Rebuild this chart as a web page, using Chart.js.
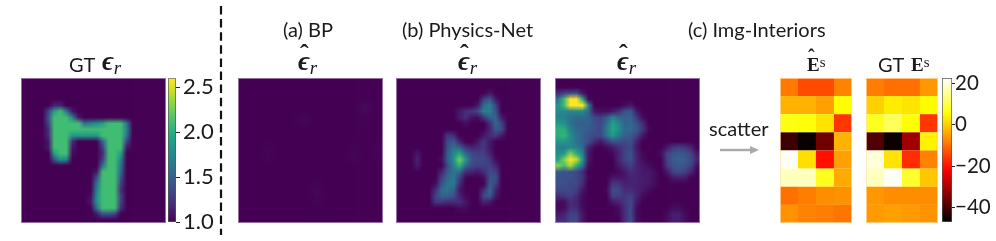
<!DOCTYPE html>
<html>
<head>
<meta charset="utf-8">
<script src="https://cdn.jsdelivr.net/npm/chart.js@4/dist/chart.umd.min.js"></script>
<style>
html,body{margin:0;padding:0;background:#fff;}
#page{position:relative;width:996px;height:241px;overflow:hidden;font-family:Lato,sans-serif;color:#1a1a1a;filter:blur(.3px);}
#page canvas{position:absolute;}
.t{position:absolute;white-space:nowrap;font-size:20px;line-height:24px;}
.m{font-family:"Liberation Serif",serif;}
.m b{font-size:27px;font-style:italic;}
.m i{font-size:19px;position:relative;top:4px;}
.m u{text-decoration:none;position:absolute;font-weight:bold;font-size:26px;}
.m sup{font-size:15px;position:relative;top:-4px;vertical-align:baseline;}
.edge{position:absolute;box-sizing:border-box;border:1px solid rgba(205,185,215,.6);}
.edge2{position:absolute;box-sizing:border-box;border:1px solid rgba(255,225,180,.7);}
</style>
</head>
<body>
<div id="page">
  <canvas id="gt" width="145" height="145" style="left:21px;top:78px;width:145px;height:145px"></canvas>
  <canvas id="bp" width="145" height="145" style="left:237.5px;top:78px;width:145px;height:145px"></canvas>
  <canvas id="phys" width="145" height="145" style="left:396px;top:78px;width:145px;height:145px"></canvas>
  <canvas id="img" width="145" height="145" style="left:555px;top:78px;width:145px;height:145px"></canvas>
  <canvas id="eHat" width="72" height="145" style="left:780px;top:78px"></canvas>
  <canvas id="eGt" width="72" height="145" style="left:866px;top:78px"></canvas>
  <canvas id="cbar1" width="52" height="179" style="left:168px;top:62px"></canvas>
  <canvas id="cbar2" width="54" height="179" style="left:942px;top:62px"></canvas>
  <div class="edge" style="left:21px;top:78px;width:145px;height:145px"></div>
  <div class="edge" style="left:237.5px;top:78px;width:145px;height:145px"></div>
  <div class="edge" style="left:396px;top:78px;width:145px;height:145px"></div>
  <div class="edge" style="left:555px;top:78px;width:145px;height:145px"></div>
  <div class="edge2" style="left:780px;top:78px;width:72px;height:145px"></div>
  <div class="edge2" style="left:866px;top:78px;width:72px;height:145px"></div>

  <div class="t" style="left:283px;top:17px">(a) BP</div>
  <div class="t" style="left:402px;top:17px">(b) Physics-Net</div>
  <div class="t" style="left:688px;top:17px">(c) Img-Interiors</div>
  <div class="t" style="left:69px;top:52px">GT</div>
  <div class="t m" style="left:102px;top:49px"><b>ϵ</b><i>r</i></div>
  <div class="t m" style="left:298px;top:49px"><u style="left:2px;top:-7px">ˆ</u><b>ϵ</b><i>r</i></div>
  <div class="t m" style="left:458px;top:49px"><u style="left:2px;top:-7px">ˆ</u><b>ϵ</b><i>r</i></div>
  <div class="t m" style="left:617px;top:49px"><u style="left:2px;top:-7px">ˆ</u><b>ϵ</b><i>r</i></div>
  <div class="t m" style="left:807px;top:52px"><u style="left:1px;top:-7px;font-size:20px">ˆ</u><span style="font-weight:bold;font-size:19px">E</span><sup>s</sup></div>
  <div class="t" style="left:878px;top:52px">GT</div>
  <div class="t m" style="left:911px;top:52px"><span style="font-weight:bold;font-size:19px">E</span><sup>s</sup></div>
  <div class="t" style="left:709px;top:116px">scatter</div>

  <svg width="996" height="241" style="position:absolute;left:0;top:0">
    <line x1="221" y1="6" x2="221" y2="235" stroke="#111" stroke-width="2.2" stroke-dasharray="8.5 4.6"/>
    <line x1="720" y1="150" x2="752" y2="150" stroke="#a9a9a9" stroke-width="2.4"/>
    <polygon points="750,146 759,150 750,154" fill="#a9a9a9"/>
  </svg>
</div>
<script>
// values, rows top to bottom
var gtMap = [
[1,1,1,1,1,1,1,1,1,1,1,1,1,1,1,1,1,1,1,1,1,1,1,1],
[1,1,1,1,1,1,1,1,1,1,1,1,1,1,1,1,1,1,1,1,1,1,1,1],
[1,1,1,1,1,1,1,1,1,1,1,1,1,1,1,1,1,1,1,1,1,1,1,1],
[1,1,1,1,1,1,1,1,1,1,1,1,1,1,1,1,1,1,1,1,1,1,1,1],
[1,1,1,1,1,1.15,1.15,1,1,1,1,1,1,1,1,1,1,1,1,1,1,1,1,1],
[1,1,1,1,1.3,1.9,2.1,1.6,1.1,1,1,1,1,1,1,1,1,1,1,1,1,1,1,1],
[1,1,1,1,1.4,2.1,2.1,2.1,1.7,1.1,1,1,1,1,1,1,1,1,1,1,1,1,1,1],
[1,1,1,1,1.3,2.1,2.1,2.1,2.1,2.1,1.6,1.7,1.8,1.9,2.1,2.1,2.1,1.6,1,1,1,1,1,1],
[1,1,1,1,1.2,2.1,2.1,2.1,2.1,2.1,2.1,2.1,2.1,2.1,2.1,2.1,2.1,1.7,1,1,1,1,1,1],
[1,1,1,1,1.2,2.1,2.1,2.1,1.85,1.85,1.85,1.85,1.85,2.1,2.1,2.1,2.1,1.6,1,1,1,1,1,1],
[1,1,1,1,1.1,2.1,2.1,2.1,1.2,1,1,1,1,1.5,2.1,2.1,2.1,1.3,1,1,1,1,1,1],
[1,1,1,1,1.1,2.1,2.1,2.1,1.1,1,1,1,1,1.3,2.1,2.1,2.1,1.1,1,1,1,1,1,1],
[1,1,1,1,1,1.9,2.1,2.1,1.05,1,1,1,1,1.2,2.1,2.1,1.9,1,1,1,1,1,1,1],
[1,1,1,1,1,1.4,1.8,1.7,1,1,1,1,1,1.3,2.1,2.1,1.7,1,1,1,1,1,1,1],
[1,1,1,1,1,1,1,1,1,1,1,1,1,1.6,2.1,2.1,1.6,1,1,1,1,1,1,1],
[1,1,1,1,1,1,1,1,1,1,1,1,1.1,2.1,2.1,2.1,1.5,1,1,1,1,1,1,1],
[1,1,1,1,1,1,1,1,1,1,1,1,1.4,2.1,2.1,2.1,1.4,1,1,1,1,1,1,1],
[1,1,1,1,1,1,1,1,1,1,1,1,1.6,2.1,2.1,2.1,1.3,1,1,1,1,1,1,1],
[1,1,1,1,1,1,1,1,1,1,1,1,1.7,2.1,2.1,2.1,1.2,1,1,1,1,1,1,1],
[1,1,1,1,1,1,1,1,1,1,1,1.05,1.8,2.1,2.1,2.1,1.3,1,1,1,1,1,1,1],
[1,1,1,1,1,1,1,1,1,1,1,1.1,1.8,2.1,2.1,2.1,1.3,1,1,1,1,1,1,1],
[1,1,1,1,1,1,1,1,1,1,1,1,1.6,2.1,2.1,2.1,1.2,1,1,1,1,1,1,1],
[1,1,1,1,1,1,1,1,1,1,1,1,1.1,1.4,1.4,1.3,1,1,1,1,1,1,1,1],
[1,1,1,1,1,1,1,1,1,1,1,1,1,1,1,1,1,1,1,1,1,1,1,1]
];
var bpMap = [
[1,1,1,1,1,1,1,1,1,1,1,1],
[1,1,1,1,1,1,1,1,1,1,1,1],
[1,1,1,1,1,1,1,1,1,1,1.03,1],
[1,1,1,1,1,1.025,1,1,1,1,1.01,1],
[1,1,1,1,1,1,1,1,1,1,1,1],
[1,1,1.01,1,1,1,1,1,1,1.01,1,1.01],
[1,1,1.02,1,1,1,1,1,1,1.02,1,1.01],
[1,1,1,1,1,1,1,1,1,1,1,1],
[1,1,1,1,1,1,1.01,1,1,1,1,1],
[1,1,1,1,1,1,1.03,1,1,1,1,1],
[1,1,1,1,1,1,1.01,1,1,1,1,1],
[1,1,1,1,1,1,1,1,1,1,1,1]
];
var physMap = [
[1,1,1,1,1,1,1,1,1,1,1,1,1,1,1,1,1,1,1,1,1,1,1,1],
[1,1,1,1,1,1,1,1,1,1,1,1,1,1,1,1,1,1,1,1,1,1,1,1],
[1,1,1,1,1,1,1,1,1,1,1,1,1,1,1,1.1,1,1,1,1,1,1,1,1],
[1,1,1,1,1,1,1,1,1,1,1,1,1,1,1.3,1.45,1.1,1,1,1,1,1,1,1],
[1,1,1,1,1,1,1,1,1,1,1,1,1,1.1,1.55,1.7,1.3,1,1,1,1,1,1,1],
[1,1,1,1,1,1,1,1,1,1,1.1,1.2,1.25,1.35,1.7,1.7,1.4,1,1,1,1,1,1,1],
[1,1,1,1,1,1,1,1,1,1,1.12,1.2,1.08,1.05,1.25,1.5,1.5,1.1,1,1,1,1,1,1],
[1,1,1,1,1,1,1,1,1,1,1,1.05,1,1,1,1.2,1.55,1.3,1,1,1,1,1,1],
[1,1,1,1,1,1,1,1,1,1,1,1,1,1,1,1.15,1.45,1.35,1,1,1,1,1,1],
[1,1,1,1,1,1,1,1,1.25,1.2,1,1,1,1,1.1,1.2,1.25,1.1,1,1,1,1,1,1],
[1,1,1,1,1,1,1,1,1.35,1.45,1.15,1,1,1.1,1.25,1.1,1,1,1,1,1,1,1,1],
[1,1,1,1,1,1,1,1,1.4,1.6,1.5,1.25,1.15,1.2,1.25,1.1,1,1,1,1,1,1,1,1],
[1,1,1,1.1,1,1,1,1,1.45,1.75,1.95,1.55,1.35,1.3,1.3,1.15,1,1,1,1,1,1,1,1],
[1,1,1,1.15,1,1,1,1.05,1.45,1.8,2.25,1.85,1.4,1.35,1.35,1.25,1.05,1,1,1,1,1,1,1],
[1,1,1,1.12,1,1,1,1,1.35,1.7,2,1.55,1.35,1.3,1.3,1.3,1.15,1,1,1,1,1,1,1],
[1,1,1,1,1,1,1,1.15,1.45,1.6,1.55,1.2,1.15,1.1,1.2,1.35,1.3,1,1,1,1,1,1,1],
[1,1,1,1,1,1,1,1.3,1.55,1.65,1.3,1.03,1,1,1.05,1.4,1.4,1,1,1,1,1,1,1],
[1,1,1,1,1,1,1.05,1.4,1.6,1.65,1.2,1,1,1,1,1.45,1.3,1,1,1,1,1,1,1],
[1,1,1,1,1,1,1.2,1.55,1.6,1.5,1.1,1,1,1,1.2,1.55,1.15,1,1,1,1,1,1,1],
[1,1,1,1,1,1,1.3,1.5,1.5,1.4,1.15,1.03,1,1,1.35,1.45,1.1,1,1,1,1,1,1,1],
[1,1,1,1,1,1,1.25,1.25,1.2,1.2,1.2,1.1,1,1,1.15,1.1,1,1,1,1,1,1,1,1],
[1,1,1,1,1,1,1,1,1,1,1.05,1.05,1,1,1,1,1,1,1,1,1,1,1,1],
[1,1,1,1,1,1,1,1,1,1,1,1,1,1,1,1,1,1,1,1,1,1,1,1],
[1,1,1,1,1,1,1,1,1,1,1,1,1,1,1,1,1,1,1,1,1,1,1,1]
];
var imgMap = [
[1,1,1,1,1,1,1,1,1,1,1,1,1,1,1,1,1,1,1,1,1,1,1,1],
[1,1,1,1,1,1,1,1,1,1,1,1,1,1,1,1,1,1,1,1,1,1,1,1],
[1.2,1.3,1.35,1.4,1.1,1,1,1,1,1,1,1,1,1,1,1,1,1,1,1,1,1,1,1],
[1.6,2.1,2.6,2.6,2,1.05,1,1,1,1,1,1,1,1,1,1,1,1,1,1,1,1,1,1],
[1.8,2.1,2.6,2.6,2.6,1.75,1,1,1,1,1,1.05,1.1,1,1,1,1,1,1,1,1,1,1,1],
[1.75,1.75,1.7,1.75,1.75,1.55,1.1,1.05,1.05,1.1,1.2,1.4,1.45,1.1,1,1,1,1,1,1,1,1,1,1],
[1.7,1.7,1.6,1.55,1.55,1.5,1.35,1.3,1.45,1.7,1.55,1.5,1.5,1.25,1.05,1,1,1,1,1,1,1,1,1],
[1.9,1.8,1.6,1.5,1.5,1.5,1.4,1.35,1.55,1.9,1.75,1.5,1.55,1.4,1.2,1,1,1,1,1,1,1,1,1],
[2,2,1.7,1.55,1.5,1.45,1.4,1.35,1.65,1.95,1.8,1.55,1.55,1.45,1.25,1.03,1,1,1,1,1,1,1,1],
[2,2.05,1.8,1.6,1.5,1.4,1.35,1.35,1.6,1.85,1.65,1.5,1.45,1.3,1.1,1,1,1,1,1,1,1,1,1],
[1.85,1.85,1.75,1.6,1.5,1.4,1.2,1.1,1.25,1.4,1.4,1.35,1.4,1.15,1,1,1,1,1,1,1,1,1,1],
[1.7,1.7,1.75,1.7,1.55,1.15,1.02,1,1.03,1.1,1.2,1.3,1.35,1.1,1,1,1,1,1.1,1.25,1.3,1.25,1.15,1],
[1.8,1.85,2.3,2,1.7,1.1,1,1,1,1.03,1.15,1.3,1.4,1.15,1.03,1,1,1.05,1.3,1.4,1.45,1.4,1.3,1.1],
[1.9,2.3,2.6,2.45,1.85,1.1,1,1,1,1,1.15,1.3,1.4,1.15,1.05,1,1,1,1.3,1.45,1.5,1.45,1.35,1.15],
[2.3,2.1,2.4,2,1.6,1.05,1,1,1,1,1.1,1.2,1.3,1.15,1.1,1.05,1,1,1.25,1.4,1.45,1.4,1.3,1.05],
[1.45,1.4,1.4,1.35,1.2,1,1,1,1,1,1.03,1.1,1.2,1.15,1.1,1.1,1.05,1,1.1,1.3,1.35,1.3,1.15,1],
[1.4,1.4,1.4,1.35,1.25,1.03,1,1,1,1.1,1.1,1.1,1.15,1.15,1.12,1.1,1.05,1,1,1.1,1.12,1.1,1,1],
[1.4,1.4,1.35,1.35,1.2,1,1,1,1,1.25,1.25,1.15,1.15,1.15,1.12,1.1,1.05,1,1,1,1,1,1,1],
[1.35,1.35,1.35,1.3,1.1,1,1,1,1.03,1.35,1.35,1.2,1.2,1.15,1.1,1.05,1,1,1,1,1,1,1,1],
[1.2,1.25,1.3,1.2,1.05,1,1,1,1,1.3,1.3,1.25,1.3,1.15,1.05,1,1,1,1,1,1,1,1,1],
[1.05,1.05,1.2,1.15,1.03,1,1,1,1,1.1,1.15,1.25,1.35,1.1,1,1,1,1,1,1,1,1,1,1],
[1.03,1.05,1.2,1.2,1.05,1,1,1,1,1,1.05,1.2,1.35,1.05,1,1,1,1,1,1.05,1.05,1,1,1],
[1.1,1.15,1.3,1.3,1.1,1,1,1,1,1,1.03,1.2,1.35,1.05,1,1,1,1,1.05,1.12,1.12,1.05,1,1],
[1.2,1.2,1.35,1.35,1.1,1,1,1,1,1,1,1.2,1.4,1.05,1,1,1,1,1.05,1.12,1.12,1.05,1,1]
];
var eHatMap = [
[-9,-14,-14,-8],
[-3,-3,-5,5],
[6,5.5,2,-16],
[-41,-46,-36,-3],
[22,1.5,-20,-5],
[18,18,7,-4],
[-10,-8.5,-7,-6.5],
[-6.5,-8,-8.5,-9.5]
];
var eGtMap = [
[-8.5,-10,-10,-6],
[0,3,2,4.5],
[7,11,5,-16],
[-39,-46,-31,3.5],
[20,2,-17,-8],
[18,22,8,-1],
[-6,-7,-7,-7],
[-5.5,-5,-5.5,-6.5]
];
var epsRange = [1, 2.6];
var epsTicks = [1, 1.5, 2, 2.5];
var fieldRange = [-47, 22.5];
var fieldTicks = [-40, -20, 0, 20];

var viridisStops = ['#440154','#482475','#414487','#355f8d','#2a788e','#21918c','#22a884','#44bf70','#7ad151','#bddf26','#fde725'];

function hexRgb(h){
  return [parseInt(h.substr(1,2),16),parseInt(h.substr(3,2),16),parseInt(h.substr(5,2),16)];
}
function viridis(v){
  var t = Math.min(1,Math.max(0,(v-epsRange[0])/(epsRange[1]-epsRange[0])));
  var p = t*(viridisStops.length-1), i = Math.min(Math.floor(p),viridisStops.length-2), f = p-i;
  var a = hexRgb(viridisStops[i]), b = hexRgb(viridisStops[i+1]);
  return 'rgb('+Math.round(a[0]+(b[0]-a[0])*f)+','+Math.round(a[1]+(b[1]-a[1])*f)+','+Math.round(a[2]+(b[2]-a[2])*f)+')';
}
function hot(v){
  var t = Math.min(1,Math.max(0,(v-fieldRange[0])/(fieldRange[1]-fieldRange[0])));
  var r = Math.min(1,t/.365), g = Math.max(0,Math.min(1,(t-.365)/.381)), b = Math.max(0,(t-.746)/.254);
  return 'rgb('+Math.round(r*255)+','+Math.round(g*255)+','+Math.round(b*255)+')';
}

// dpr below 1 makes one canvas pixel per cell, the browser then smooths it when scaling up
function heatmap(id, rows, colour, w, smooth){
  var ny = rows.length, nx = rows[0].length, cell = w/nx;
  var pts = [];
  rows.forEach(function(row,r){
    row.forEach(function(v,c){ pts.push({x:c+.5,y:r+.5,v:v}); });
  });
  return new Chart(document.getElementById(id),{
    type:'scatter',
    data:{datasets:[{
      data:pts,
      pointStyle:'rect',
      pointRadius:cell/Math.SQRT2*(smooth?1:1.01),
      pointBorderWidth:0,
      pointBackgroundColor:function(c){return colour(c.raw.v);}
    }]},
    options:{
      responsive:false,
      animation:false,
      events:[],
      devicePixelRatio: smooth ? (nx+.01)/w : 1,
      layout:{padding:0,autoPadding:false},
      plugins:{legend:{display:false},tooltip:{enabled:false}},
      scales:{
        x:{type:'linear',display:false,min:0,max:nx},
        y:{type:'linear',display:false,min:0,max:ny,reverse:true}
      }
    }
  });
}

function colorbar(id, range, ticks, stops, fmt, fontSize, tickLen, tickPad){
  return new Chart(document.getElementById(id),{
    type:'bar',
    data:{labels:[''],datasets:[{
      data:[[range[0],range[1]]],
      barPercentage:1,
      categoryPercentage:1,
      borderSkipped:false,
      borderWidth:1,
      borderColor:'#555',
      backgroundColor:function(c){
        var a = c.chart.chartArea;
        if(!a) return stops[0];
        var g = c.chart.ctx.createLinearGradient(0,a.bottom,0,a.top);
        stops.forEach(function(s,i){ g.addColorStop(i/(stops.length-1),s); });
        return g;
      }
    }]},
    options:{
      responsive:false,
      animation:false,
      events:[],
      devicePixelRatio:1,
      layout:{padding:{top:16,bottom:19,left:0,right:0}},
      plugins:{legend:{display:false},tooltip:{enabled:false}},
      scales:{
        x:{display:false},
        y:{
          position:'right',
          min:range[0],max:range[1],
          afterFit:function(s){s.width=44;},
          afterBuildTicks:function(s){s.ticks=ticks.map(function(v){return {value:v};});},
          border:{display:false},
          grid:{drawOnChartArea:false,drawTicks:true,tickLength:tickLen,color:'#222'},
          ticks:{color:'#1a1a1a',padding:tickPad,font:{family:'Lato',size:fontSize},autoSkip:false,callback:fmt}
        }
      }
    }
  });
}

heatmap('gt',gtMap,viridis,145,true);
heatmap('bp',bpMap,viridis,145,true);
heatmap('phys',physMap,viridis,145,true);
heatmap('img',imgMap,viridis,145,true);
heatmap('eHat',eHatMap,hot,72,false);
heatmap('eGt',eGtMap,hot,72,false);

// colour steps for the bar, same breaks as hot()
var hotBar = [];
for(var i=0;i<=20;i++){ hotBar.push(hot(fieldRange[0]+(fieldRange[1]-fieldRange[0])*i/20)); }
colorbar('cbar1',epsRange,epsTicks,viridisStops,function(v){return v.toFixed(1);},22,4,3);
colorbar('cbar2',fieldRange,fieldTicks,hotBar,function(v){return String(v).replace('-','\u2212');},20.5,3,0);
</script>
</body>
</html>
